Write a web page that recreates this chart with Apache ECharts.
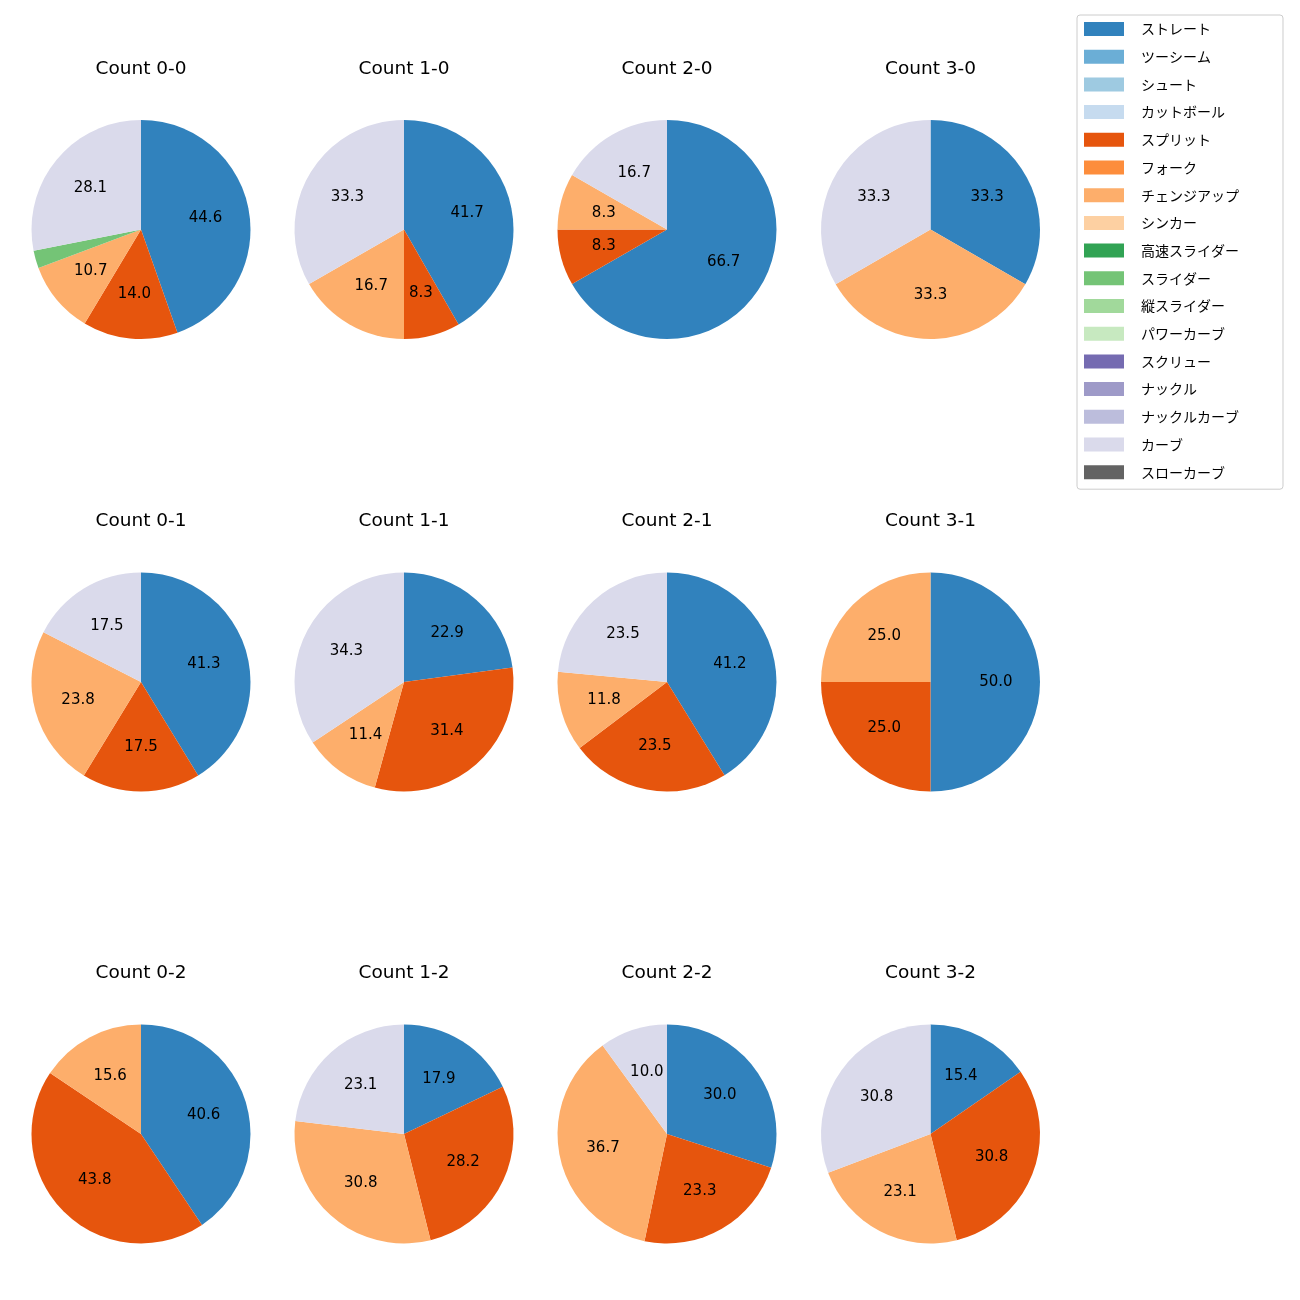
<!DOCTYPE html>
<html><head><meta charset="utf-8">
<script src="https://cdn.jsdelivr.net/npm/echarts@6/dist/echarts.min.js"></script>
<style>html,body{margin:0;padding:0;background:#fff}#c{width:1300px;height:1300px}</style>
</head><body><div id="c"></div>
<script>
const categories = ['ストレート','ツーシーム','シュート','カットボール','スプリット','フォーク','チェンジアップ','シンカー','高速スライダー','スライダー','縦スライダー','パワーカーブ','スクリュー','ナックル','ナックルカーブ','カーブ','スローカーブ'];
const colors = ['#3182bd','#6baed6','#9ecae1','#c6dbef','#e6550d','#fd8d3c','#fdae6b','#fdd0a2','#31a354','#74c476','#a1d99b','#c7e9c0','#756bb1','#9e9ac8','#bcbddc','#dadaeb','#636363'];
const counts = ['0-0','1-0','2-0','3-0','0-1','1-1','2-1','3-1','0-2','1-2','2-2','3-2'];
// percentages per pitch type, one value per count (order as in counts)
const straight = [44.6, 41.7, 66.7, 33.3, 41.3, 22.9, 41.2, 50.0, 40.6, 17.9, 30.0, 15.4];
const split    = [14.0,  8.3,  8.3,  0.0, 17.5, 31.4, 23.5, 25.0, 43.8, 28.2, 23.3, 30.8];
const changeup = [10.7, 16.7,  8.3, 33.3, 23.8, 11.4, 11.8, 25.0, 15.6, 30.8, 36.7, 23.1];
const slider   = [ 2.6,  0.0,  0.0,  0.0,  0.0,  0.0,  0.0,  0.0,  0.0,  0.0,  0.0,  0.0];
const curve    = [28.1, 33.3, 16.7, 33.3, 17.5, 34.3, 23.5,  0.0,  0.0, 23.1, 10.0, 30.8];

const seriesByName = {'ストレート': straight, 'スプリット': split, 'チェンジアップ': changeup, 'スライダー': slider, 'カーブ': curve};

const colX = [141, 404, 667, 930.5];
const rowY = [229.5, 682, 1134];
const R = 109.5;
const FONT = '"DejaVu Sans", "Noto Sans CJK JP", sans-serif';
const JFONT = '"Noto Sans CJK JP", "DejaVu Sans", sans-serif';

const series = [];
const titles = [];
counts.forEach((cnt, i) => {
  const cx = colX[i % 4], cy = rowY[Math.floor(i / 4)];
  const data = categories.map((name, k) => ({
    name,
    value: seriesByName[name] ? seriesByName[name][i] : 0,
    itemStyle: {color: colors[k]}
  }));
  series.push({
    type: 'pie', center: [cx, cy], radius: [0, R], startAngle: 90, clockwise: true,
    avoidLabelOverlap: false, silent: true, animation: false,
    itemStyle: {borderWidth: 0},
    label: {show: false}, labelLine: {show: false},
    emphasis: {disabled: true},
    data
  });
  series.push({
    type: 'pie', center: [cx, cy], radius: [0, R * 1.14], startAngle: 90, clockwise: true,
    avoidLabelOverlap: false, silent: true, animation: false, legendHoverLink: false,
    itemStyle: {color: 'rgba(0,0,0,0)', borderWidth: 0},
    label: {show: true, position: 'inside', color: '#000', fontSize: 15, fontFamily: FONT,
      formatter: p => p.value >= 5 ? p.value.toFixed(1) : ''},
    labelLine: {show: false},
    emphasis: {disabled: true},
    data: data.map(d => ({name: d.name + '_lbl', value: d.value}))
  });
  titles.push({
    text: 'Count ' + cnt, left: cx, top: cy - 170, textAlign: 'center', padding: 0,
    textStyle: {fontSize: 18.5, fontWeight: 'normal', color: '#000', fontFamily: FONT}
  });
});

const chart = echarts.init(document.getElementById('c'), null, {renderer: 'canvas'});
chart.setOption({
  animation: false,
  title: titles,
  legend: {
    data: categories, orient: 'vertical', left: 1077, top: 15,
    itemWidth: 40, itemHeight: 14, itemGap: 13.7, icon: 'rect',
    padding: [7, 44, 10, 7], borderColor: '#cccccc', borderWidth: 1, borderRadius: 3,
    backgroundColor: '#fff', selectedMode: false,
    textStyle: {fontSize: 14, lineHeight: 14, color: '#000', fontFamily: JFONT, padding: [0, 0, 0, 12]}
  },
  series
});
</script></body></html>
